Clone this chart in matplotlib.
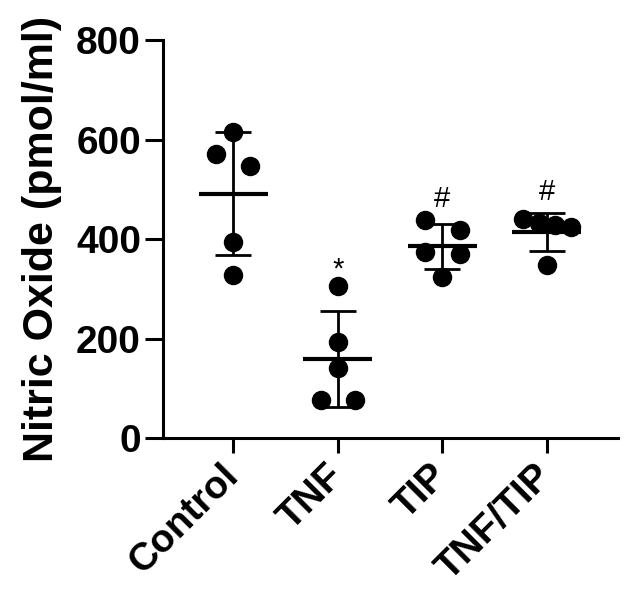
import numpy as np
import matplotlib
matplotlib.use("Agg")
import matplotlib.pyplot as plt

# values (pmol/ml), 5 samples per group
groups = ["Control", "TNF", "TIP", "TNF/TIP"]
control = [615, 571, 547, 394, 327]
tnf = [306, 194, 142, 77, 77]
tip = [439, 419, 375, 371, 324]
tnf_tip = [441, 432, 428, 425, 347]
marks = ["", "*", "#", "#"]
mark_y = [0, 322, 464, 478]
y_ticks = [0, 200, 400, 600, 800]


def swarm_offsets(vals, tol=30, step=0.33, max_width=0.46):
    # GraphPad-like spread: near-equal values sit side by side, bigger ones on the left
    vals = np.asarray(vals, dtype=float)
    order = np.argsort(-vals, kind="stable")
    bins = []
    for i in order:
        if bins and vals[bins[-1][0]] - vals[i] < tol:
            bins[-1].append(i)
        else:
            bins.append([i])
    offs = np.zeros(len(vals))
    for b in bins:
        n = len(b)
        if n > 1:
            s = min(step, max_width / (n - 1))
            for k, idx in enumerate(b):
                offs[idx] = (k - (n - 1) / 2) * s
    return offs


plt.rcParams["font.family"] = ["Liberation Sans", "DejaVu Sans"]
plt.rcParams["font.weight"] = "bold"

fig = plt.figure(figsize=(6.30, 5.97), dpi=100)
ax = fig.add_axes([0.259, 0.266, 0.722, 0.667])

data = [control, tnf, tip, tnf_tip]
for i, vals in enumerate(data):
    x = i + 1
    vals = np.asarray(vals, dtype=float)
    xs = x + swarm_offsets(vals)
    ax.plot(xs, vals, "o", color="black", markersize=13, zorder=3)
    m = vals.mean()
    sd = vals.std(ddof=1)
    ax.hlines(m, x - 0.33, x + 0.33, color="black", lw=3, zorder=4)
    ax.errorbar(x, m, yerr=sd, fmt="none", ecolor="black", elinewidth=2,
                capsize=13, capthick=2, zorder=4)
    if marks[i]:
        ax.text(x, mark_y[i], marks[i], ha="center", va="baseline",
                fontsize=21, fontweight="normal")

ax.set_xlim(0.33, 4.68)
ax.set_ylim(0, 800)
ax.set_yticks(y_ticks)
ax.set_xticks(range(1, len(groups) + 1))
ax.set_xticklabels(groups, rotation=45, ha="right", va="center",
                   rotation_mode="anchor")

for s in ["top", "right"]:
    ax.spines[s].set_visible(False)
for s in ["left", "bottom"]:
    ax.spines[s].set_linewidth(2.2)

ax.tick_params(axis="y", length=13, width=2.2, labelsize=28, pad=3)
ax.tick_params(axis="x", length=11, width=2.2, labelsize=28, pad=12)
ax.set_ylabel("Nitric Oxide (pmol/ml)", fontsize=31, fontweight="bold")
ax.yaxis.set_label_coords(-0.222, 0.5)

fig.savefig("out.png", dpi=100)
